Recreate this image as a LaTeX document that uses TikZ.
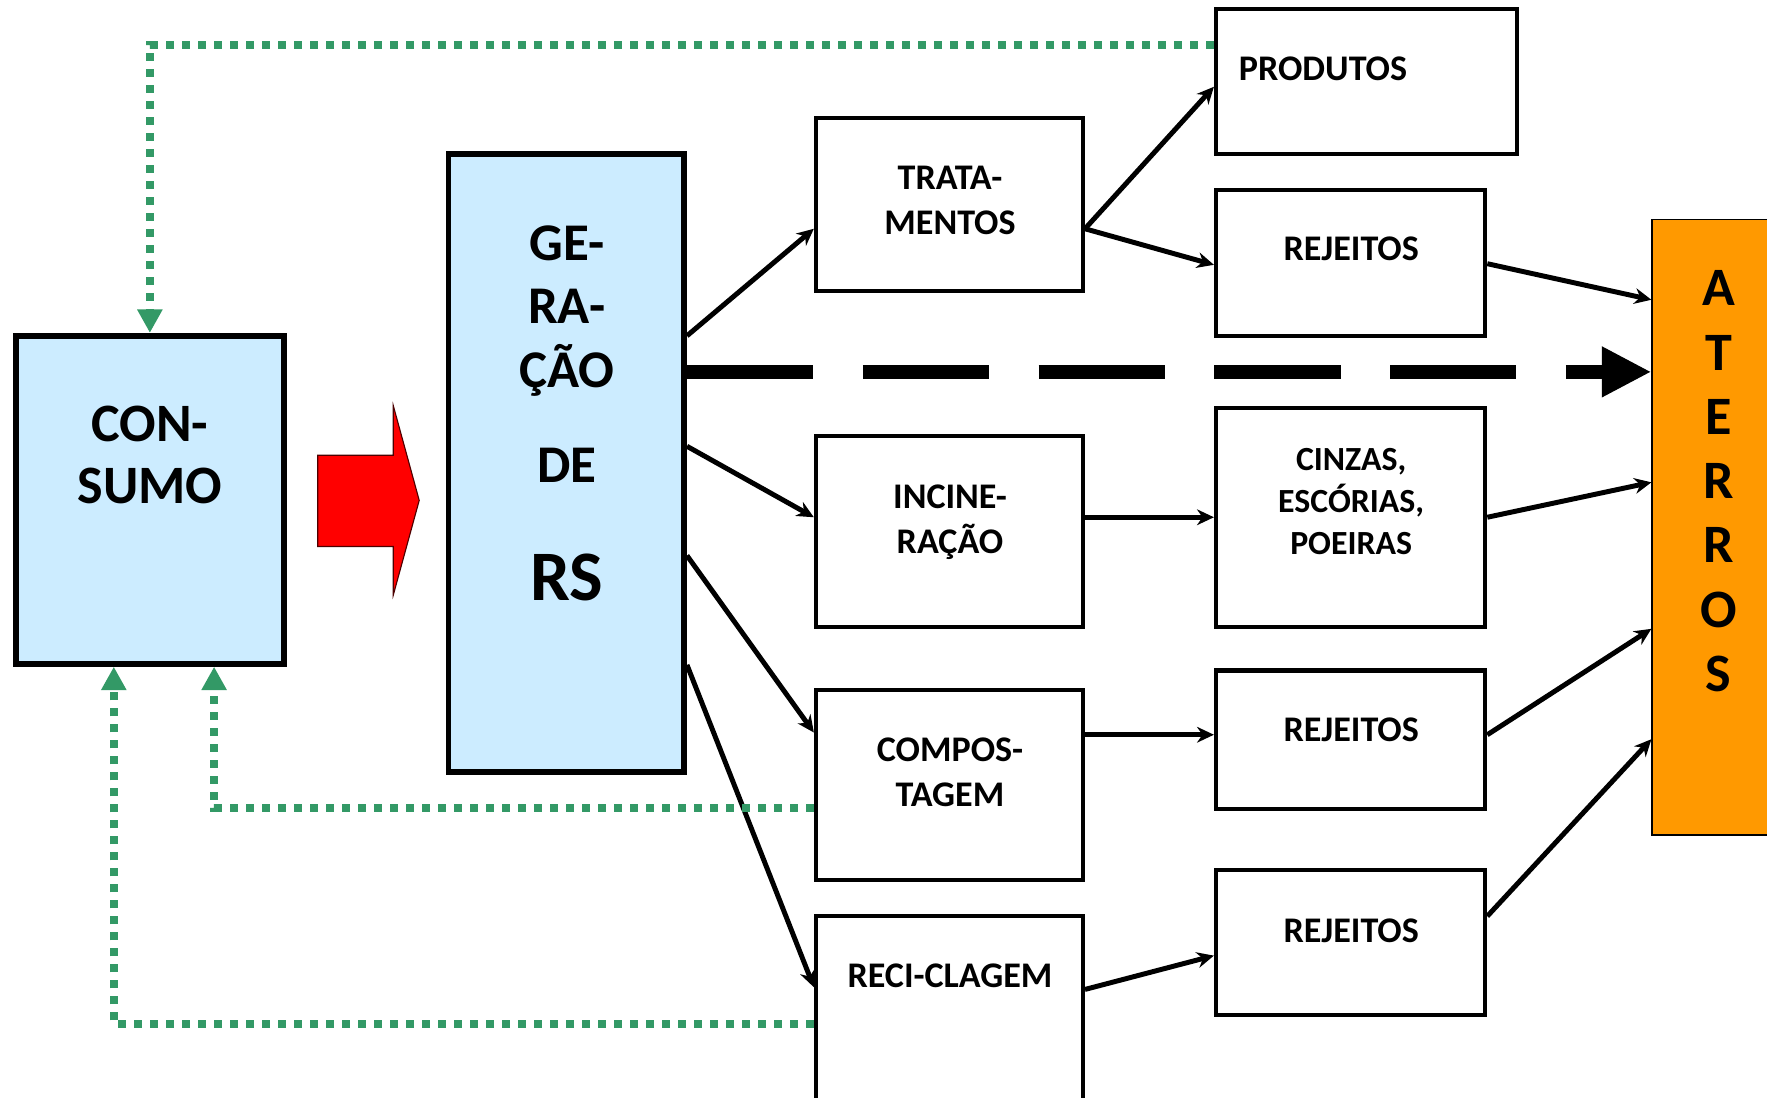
\documentclass[tikz,border=0pt]{standalone}
\usepackage{fontspec}
\setmainfont{Carlito}
\usetikzlibrary{arrows.meta,fit}
\definecolor{lightblue}{RGB}{204,236,255}
\definecolor{loopgreen}{RGB}{51,153,102}
\definecolor{landfill}{RGB}{255,153,0}

\begin{document}
\begin{tikzpicture}[x=0.5pt,y=-0.5pt,
    box/.style={draw,line width=1.8pt,inner sep=0pt},
    bigbox/.style={draw,line width=2.6pt,inner sep=0pt,fill=lightblue},
    flow/.style={line width=2.2pt,-{Stealth[length=7.5pt,width=7pt]}},
    back/.style={loopgreen,line width=3.5pt,dash pattern=on 3.5pt off 3.6pt,-{Triangle[length=10.4pt,width=10.6pt]}},
    lbl/.style={align=center,inner sep=0pt,font=\bfseries\fontsize{16}{20}\selectfont}]
    \useasboundingbox (0,0) rectangle (1568,974);

    % boxes
    \node[bigbox,fit={(14,298) (252,589)}] (cons) {};
    \node[bigbox,fit={(398,137) (607,685)}] (ger) {};
    \node[box,fit={(724,105) (961,258)}] (trat) {};
    \node[box,fit={(724,387) (961,556)}] (incin) {};
    \node[box,fit={(724,612) (961,781)}] (comp) {};
    \node[box,fit={(724,813) (961,1010)}] (recic) {};
    \node[box,fit={(1079,8) (1346,137)}] (prod) {};
    \node[box,fit={(1079,169) (1318,298)}] (rej1) {};
    \node[box,fit={(1079,362) (1318,556)}] (cinz) {};
    \node[box,fit={(1079,595) (1318,718)}] (rej2) {};
    \node[box,fit={(1079,772) (1318,901)}] (rej3) {};
    \node[draw,line width=0.6pt,fill=landfill,inner sep=0pt,fit={(1466,195) (1620,741)}] (ater) {};

    % texts
    \node[lbl,font=\bfseries\fontsize{24}{27.5}\selectfont] (consT) at (133,404) {CON-\\SUMO};
    \node[lbl,font=\bfseries\fontsize{23.5}{28.25}\selectfont] (gerT) at (503,276) {GE-\\RA-\\ÇÃO};
    \node[lbl,font=\bfseries\fontsize{23.5}{28.25}\selectfont] (deT) at (503,413) {DE};
    \node[lbl,font=\bfseries\fontsize{31.5}{36}\selectfont] (rsT) at (503,512) {RS};
    \node[lbl] (tratT) at (843,178) {TRATA-\\MENTOS};
    \node[lbl] (incinT) at (843,463) {INCINE-\\RAÇÃO};
    \node[lbl] (compT) at (843,685) {COMPOS-\\TAGEM};
    \node[lbl] (recicT) at (843,866) {RECI-CLAGEM};
    \node[lbl,anchor=west] (prodT) at (1099,61) {PRODUTOS};
    \node[lbl] (rej1T) at (1199,221) {REJEITOS};
    \node[lbl,font=\bfseries\fontsize{15}{18.5}\selectfont] (cinzT) at (1199,445) {CINZAS,\\ESCÓRIAS,\\POEIRAS};
    \node[lbl] (rej2T) at (1199,648) {REJEITOS};
    \node[lbl] (rej3T) at (1199,826) {REJEITOS};
    \node[lbl,font=\bfseries\fontsize{24}{28.5}\selectfont] (aterT) at (1525,427) {A\\T\\E\\R\\R\\O\\S};

    % red arrow
    \draw[fill=red,draw=black!70!red,line width=0.5pt] (282,404) -- (349,404) -- (349,360) -- (372,444) -- (349,528) -- (349,485) -- (282,485) -- cycle;

    % flows
    \draw[flow] (ger.east |- 0,298) -- (trat.west |- 0,203);
    \draw[flow] (ger.east |- 0,396) -- (incin.west |- 0,459);
    \draw[flow] (ger.east |- 0,493) -- (comp.west |- 0,650);
    \draw[flow] (ger.east |- 0,590) -- (recic.west |- 0,876);
    \draw[flow] (trat.east |- 0,203) -- (prod.west |- 0,77);
    \draw[flow] (trat.east |- 0,203) -- (rej1.west |- 0,235);
    \draw[flow] (incin.east |- 0,459) -- (cinz.west |- 0,459);
    \draw[flow] (comp.east |- 0,652) -- (rej2.west |- 0,652);
    \draw[flow] (recic.east |- 0,878) -- (rej3.west |- 0,848);
    \draw[flow] (rej1.east |- 0,234) -- (ater.west |- 0,266);
    \draw[flow] (cinz.east |- 0,459) -- (ater.west |- 0,428);
    \draw[flow] (rej2.east |- 0,652) -- (ater.west |- 0,558);
    \draw[flow] (rej3.east |- 0,813) -- (ater.west |- 0,656);

    % direct to landfill
    \draw[line width=6.5pt,dash pattern=on 56pt off 22pt,-{Triangle[length=22pt,width=21pt]}] (ger.east |- 0,330) -- (ater.west |- 0,330);

    % back to consumption
    \draw[back] (prod.west |- 0,40) -| (cons.north);
    \draw[back] (comp.west |- 0,717) -| (cons.south -| 190,0);
    \draw[back] (recic.west |- 0,909) -| (cons.south -| 101,0);
\end{tikzpicture}
\end{document}
